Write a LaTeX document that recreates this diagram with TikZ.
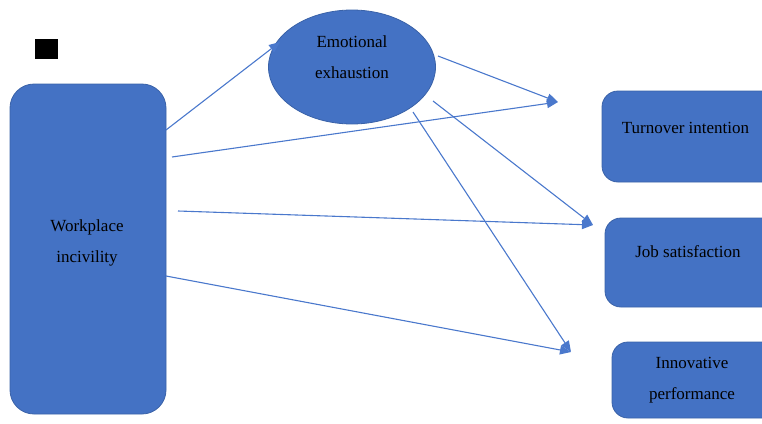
\documentclass[tikz,border=0pt]{standalone}
\usepackage{fontspec}
\setmainfont{Liberation Serif}
\usetikzlibrary{arrows.meta,shapes.geometric}
\definecolor{boxblue}{HTML}{4472C4}
\definecolor{boxedge}{HTML}{3A62A8}
\definecolor{linkblue}{HTML}{4A78CC}
\begin{document}
\begin{tikzpicture}[x=1pt,y=-1pt,
  box/.style={draw=boxedge,line width=0.8pt,fill=boxblue,rounded corners=#1},
  box/.default=16pt,
  label/.style={anchor=base,align=center,inner sep=0pt,
    font=\fontsize{17}{31}\selectfont},
  link/.style={draw=linkblue,line width=1.1pt,
    -{Triangle[length=11pt,width=9pt]}}]
\useasboundingbox (0,0) rectangle (762,423);
\clip (0,0) rectangle (762,423);

% marker square
\node[fill=black,minimum width=23pt,minimum height=20pt,inner sep=0pt,
  anchor=north west] (mark) at (35,39) {};

% predictor (base anchor of a two-line label sits on its last line)
\draw[box=24pt] (10,84) rectangle (166,414);
\node[label] (wi) at (87,262) {Workplace\\incivility};

% mediator
\node[ellipse,draw=boxedge,line width=0.8pt,fill=boxblue,
  minimum width=167pt,minimum height=114pt,inner sep=0pt] (ee) at (352,67) {};
\node[label] (eet) at (352,78) {Emotional\\exhaustion};

% outcomes
\draw[box] (602,91) rectangle (800,182);
\node[label] (ti) at (685.5,133) {Turnover intention};
\draw[box] (605,218) rectangle (800,307);
\node[label] (js) at (688,257) {Job satisfaction};
\draw[box] (612,342) rectangle (800,418);
\node[label] (ip) at (692,399) {Innovative\\performance};

% connector end points
\coordinate (wi1) at (166,130);
\coordinate (wi2) at (172,157);
\coordinate (wi3) at (178,211);
\coordinate (wi4) at (166,276);
\coordinate (ee1) at (438,56);
\coordinate (ee2) at (433,101);
\coordinate (ee3) at (413,112);
\coordinate (eein) at (280,42);
\coordinate (tiin) at (558,102);
\coordinate (jsin) at (593,225);
\coordinate (ipin) at (571,352);

\draw[link] (wi1) -- (eein);
\draw[link] (wi2) -- (tiin);
\draw[link] (ee1) -- (tiin);
\draw[link] (wi3) -- (jsin);
\draw[link] (ee2) -- (jsin);
\draw[link] (ee3) -- (ipin);
\draw[link] (wi4) -- (ipin);
\end{tikzpicture}
\end{document}
